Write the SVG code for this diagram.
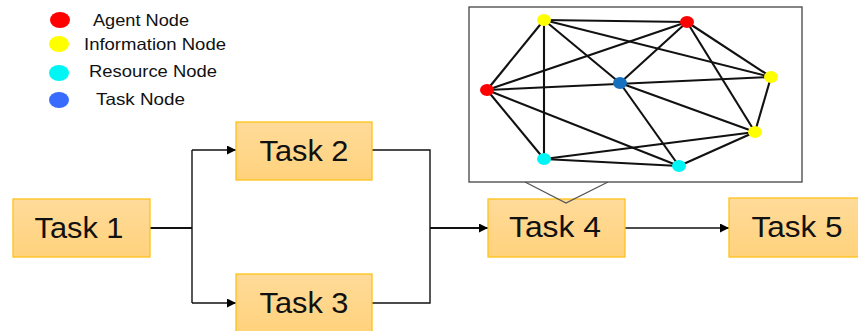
<svg xmlns="http://www.w3.org/2000/svg" width="858" height="331" viewBox="0 0 858 331">
<defs>
<linearGradient id="boxg" x1="0" y1="0" x2="0" y2="1">
<stop offset="0" stop-color="#FFDB9A"/>
<stop offset="1" stop-color="#FFD27C"/>
</linearGradient>
<marker id="arr" viewBox="0 0 10 10" refX="10" refY="5" markerWidth="10" markerHeight="9" markerUnits="userSpaceOnUse" orient="auto">
<path d="M0,0 L10,5 L0,10 z" fill="#000"/>
</marker>
</defs>
<style>
.box{fill:url(#boxg);stroke:#FFC21A;stroke-width:1.3}
.tl{font-family:"Liberation Sans",Arial,sans-serif;font-size:29.5px;fill:#111;text-anchor:middle}
.lg{font-family:"Liberation Sans",Arial,sans-serif;font-size:16.5px;fill:#111}
.con{fill:none;stroke:#111;stroke-width:1.4}
.thick{stroke-width:2}
.edge{stroke:#111;stroke-width:2.1}
.red{fill:#FF0000}.yel{fill:#FFFF00}.cya{fill:#00F5F5}.blu{fill:#3A6BFF}
</style>
<rect width="858" height="331" fill="#fff"/>
<g id="legend">
<ellipse class="red" cx="60" cy="20" rx="10" ry="8"/>
<ellipse class="yel" cx="59" cy="44" rx="10" ry="8"/>
<ellipse class="cya" cx="59" cy="73" rx="10" ry="8"/>
<ellipse class="blu" cx="59" cy="100" rx="10" ry="8"/>
<text class="lg" x="93" y="26" textLength="96" lengthAdjust="spacingAndGlyphs">Agent Node</text>
<text class="lg" x="84" y="50" textLength="142" lengthAdjust="spacingAndGlyphs">Information Node</text>
<text class="lg" x="89" y="77" textLength="128" lengthAdjust="spacingAndGlyphs">Resource Node</text>
<text class="lg" x="96" y="105" textLength="89" lengthAdjust="spacingAndGlyphs">Task Node</text>
</g>
<g id="connectors">
<path class="con thick" d="M150,228 H192"/>
<path class="con" d="M192,150 V303"/>
<path class="con" d="M192,150 H236" marker-end="url(#arr)"/>
<path class="con" d="M192,303 H236" marker-end="url(#arr)"/>
<path class="con" d="M372,150 H430 V303 H372"/>
<path class="con thick" d="M430,228 H488" marker-end="url(#arr)"/>
<path class="con" d="M625,228 H729" stroke="#333" marker-end="url(#arr)"/>
</g>
<g id="task1"><rect class="box" x="13" y="199" width="137" height="58"/><text class="tl" x="79" y="238" textLength="89" lengthAdjust="spacingAndGlyphs">Task 1</text></g>
<g id="task2"><rect class="box" x="236" y="122" width="136" height="58"/><text class="tl" x="304" y="161" textLength="89" lengthAdjust="spacingAndGlyphs">Task 2</text></g>
<g id="task3"><rect class="box" x="236" y="274" width="136" height="58"/><text class="tl" x="304" y="313" textLength="89" lengthAdjust="spacingAndGlyphs">Task 3</text></g>
<g id="task4"><rect class="box" x="488" y="199" width="137" height="58"/><text class="tl" x="555" y="237" textLength="92" lengthAdjust="spacingAndGlyphs">Task 4</text></g>
<g id="task5"><rect class="box" x="729" y="198" width="137" height="59"/><text class="tl" x="797" y="237" textLength="91" lengthAdjust="spacingAndGlyphs">Task 5</text></g>
<g id="callout">
<polyline points="525,182 566,203 608,182" fill="none" stroke="#555" stroke-width="1.3"/>
<rect x="469" y="7" width="333" height="175" fill="#fff" stroke="#444" stroke-width="1.3"/>
<g id="graph-edges" class="edge">
<line x1="544" y1="20" x2="687" y2="22"/>
<line x1="544" y1="20" x2="487" y2="90"/>
<line x1="544" y1="20" x2="544" y2="159"/>
<line x1="544" y1="20" x2="620" y2="83"/>
<line x1="544" y1="20" x2="771" y2="77"/>
<line x1="687" y1="22" x2="487" y2="90"/>
<line x1="687" y1="22" x2="620" y2="83"/>
<line x1="687" y1="22" x2="771" y2="77"/>
<line x1="687" y1="22" x2="755" y2="132"/>
<line x1="487" y1="90" x2="771" y2="77"/>
<line x1="487" y1="90" x2="544" y2="159"/>
<line x1="487" y1="90" x2="679" y2="166"/>
<line x1="771" y1="77" x2="755" y2="132"/>
<line x1="620" y1="83" x2="755" y2="132"/>
<line x1="620" y1="83" x2="679" y2="166"/>
<line x1="544" y1="159" x2="755" y2="132"/>
<line x1="544" y1="159" x2="679" y2="166"/>
<line x1="755" y1="132" x2="679" y2="166"/>
</g>
<g id="graph-nodes">
<ellipse class="yel" cx="544" cy="20" rx="7" ry="6"/>
<ellipse class="red" cx="687" cy="22" rx="7" ry="6"/>
<ellipse class="yel" cx="771" cy="77" rx="7" ry="6"/>
<ellipse class="yel" cx="755" cy="132" rx="7" ry="6"/>
<ellipse class="cya" cx="679" cy="166" rx="7" ry="6"/>
<ellipse class="cya" cx="544" cy="159" rx="7" ry="6"/>
<ellipse class="red" cx="487" cy="90" rx="7" ry="6"/>
<ellipse cx="620" cy="83" rx="7" ry="6" fill="#1570C0"/>
</g>
</g>
</svg>
